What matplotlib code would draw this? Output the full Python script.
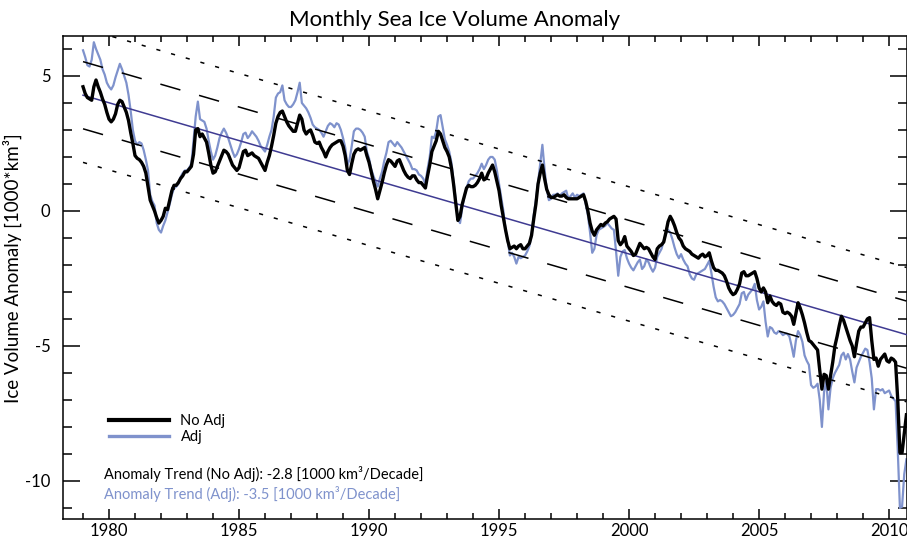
import numpy as np
import matplotlib
matplotlib.use("Agg")
import matplotlib.pyplot as plt
from matplotlib.lines import Line2D
from matplotlib.ticker import MultipleLocator

plt.rcParams['font.family'] = ['Lato', 'DejaVu Sans']
plt.rcParams['lines.scale_dashes'] = False

# Monthly anomalies [1000 km^3], January 1979 onwards
start_year = 1979
no_adj = [
    4.60, 4.35, 4.20, 4.15, 4.10, 4.60, 4.85, 4.60, 4.40, 4.15, 3.95, 3.65,        # 1979
    3.40, 3.30, 3.40, 3.60, 3.95, 4.10, 4.05, 3.85, 3.65, 3.35, 2.90, 2.50,        # 1980
    2.05, 1.95, 1.90, 1.80, 1.65, 1.40, 0.90, 0.40, 0.20, 0.00, -0.25, -0.45,      # 1981
    -0.35, -0.20, 0.10, 0.05, 0.40, 0.75, 0.95, 0.95, 1.05, 1.20, 1.30, 1.45,      # 1982
    1.45, 1.55, 1.65, 2.10, 3.00, 3.05, 2.75, 2.85, 2.70, 2.55, 2.15, 1.70,        # 1983
    1.40, 1.45, 1.65, 1.85, 2.05, 2.25, 2.20, 2.10, 1.90, 1.70, 1.60, 1.50,        # 1984
    1.60, 1.90, 2.20, 2.25, 2.05, 2.10, 2.15, 2.05, 2.00, 1.95, 1.80, 1.65,        # 1985
    1.50, 1.80, 2.05, 2.40, 2.80, 3.25, 3.50, 3.65, 3.70, 3.50, 3.30, 3.15,        # 1986
    3.05, 2.95, 2.95, 3.25, 3.55, 3.40, 3.00, 2.85, 2.95, 3.00, 2.80, 2.55,        # 1987
    2.50, 2.55, 2.35, 2.20, 2.00, 2.20, 2.35, 2.45, 2.50, 2.55, 2.60, 2.60,        # 1988
    2.40, 2.05, 1.50, 1.35, 1.75, 2.10, 2.25, 2.30, 2.25, 2.30, 2.35, 2.05,        # 1989
    1.80, 1.45, 1.10, 0.80, 0.45, 0.75, 1.05, 1.40, 1.70, 1.90, 1.85, 1.75,        # 1990
    1.65, 1.85, 1.90, 1.70, 1.50, 1.35, 1.25, 1.20, 1.30, 1.30, 1.15, 1.05,        # 1991
    1.05, 0.95, 0.85, 1.30, 1.70, 2.20, 2.40, 2.60, 2.95, 2.85, 2.60, 2.35,        # 1992
    2.20, 2.00, 1.60, 1.00, 0.30, -0.35, -0.20, 0.25, 0.55, 0.85, 0.95, 0.90,      # 1993
    0.90, 0.95, 1.05, 1.20, 1.40, 1.15, 1.20, 1.40, 1.55, 1.70, 1.45, 1.10,        # 1994
    0.75, 0.20, -0.25, -0.70, -1.10, -1.40, -1.35, -1.30, -1.40, -1.30, -1.25, -1.40,  # 1995
    -1.40, -1.30, -1.20, -0.90, -0.30, 0.25, 1.00, 1.40, 1.70, 1.20, 0.80, 0.60,   # 1996
    0.50, 0.50, 0.55, 0.60, 0.55, 0.55, 0.60, 0.50, 0.45, 0.45, 0.45, 0.45,        # 1997
    0.45, 0.50, 0.55, 0.60, 0.35, 0.00, -0.45, -0.75, -0.90, -0.70, -0.60, -0.50,  # 1998
    -0.55, -0.45, -0.40, -0.30, -0.25, -0.20, -0.30, -1.10, -1.25, -1.15, -0.95, -1.30,  # 1999
    -1.40, -1.50, -1.65, -1.60, -1.40, -1.20, -1.30, -1.40, -1.35, -1.40, -1.55, -1.70,  # 2000
    -1.80, -1.40, -1.30, -1.25, -1.15, -0.80, -0.40, -0.20, -0.35, -0.55, -0.80, -1.00,  # 2001
    -1.10, -1.30, -1.40, -1.45, -1.50, -1.60, -1.65, -1.70, -1.75, -1.65, -1.60, -1.70,  # 2002
    -1.65, -1.55, -1.85, -2.10, -2.20, -2.20, -2.25, -2.30, -2.40, -2.60, -2.85, -3.00,  # 2003
    -3.10, -3.05, -2.90, -2.70, -2.30, -2.25, -2.40, -2.40, -2.35, -2.30, -2.25, -2.50,  # 2004
    -2.85, -3.00, -2.85, -3.00, -3.40, -3.15, -3.35, -3.45, -3.50, -3.40, -3.45, -3.75,  # 2005
    -3.80, -3.75, -3.80, -3.90, -4.20, -3.80, -3.40, -3.60, -3.85, -4.15, -4.50, -4.80,  # 2006
    -4.85, -4.95, -5.05, -5.15, -5.90, -6.60, -6.05, -6.10, -6.60, -6.10, -5.60, -5.00,  # 2007
    -4.65, -4.25, -3.90, -4.05, -4.30, -4.55, -4.80, -5.00, -5.40, -4.90, -4.45, -4.30,  # 2008
    -4.30, -4.15, -4.00, -3.95, -4.80, -5.50, -5.45, -5.75, -5.50, -5.40, -5.30, -5.55,  # 2009
    -5.60, -5.45, -5.50, -5.60, -7.00, -8.95, -8.95, -8.25, -7.55,                       # 2010
]
adj = [
    5.95, 5.70, 5.40, 5.35, 5.60, 6.25, 6.00, 5.80, 5.60, 5.25, 5.05, 4.75,        # 1979
    4.60, 4.50, 4.65, 4.95, 5.20, 5.45, 5.25, 5.00, 4.75, 4.30, 3.70, 3.00,        # 1980
    2.60, 2.45, 2.55, 2.50, 2.25, 1.90, 1.50, 0.60, 0.35, 0.20, -0.45, -0.70,      # 1981
    -0.80, -0.55, -0.35, -0.05, 0.25, 0.60, 0.85, 0.90, 1.00, 1.25, 1.40, 1.50,    # 1982
    1.50, 1.60, 1.75, 2.60, 3.50, 4.05, 3.40, 3.35, 3.30, 3.05, 2.60, 2.20,        # 1983
    1.90, 2.05, 2.35, 2.70, 2.90, 3.05, 2.90, 2.70, 2.45, 2.20, 2.00, 2.10,        # 1984
    2.30, 2.55, 2.85, 2.90, 2.70, 2.80, 2.95, 2.85, 2.75, 2.60, 2.40, 2.30,        # 1985
    2.20, 2.45, 2.75, 3.00, 3.50, 4.20, 4.35, 4.40, 4.65, 4.10, 3.95, 3.85,        # 1986
    3.85, 3.95, 4.10, 4.40, 4.75, 4.00, 3.90, 3.80, 3.65, 3.45, 3.20, 3.10,        # 1987
    3.05, 3.00, 2.90, 2.75, 2.95, 3.15, 3.25, 3.20, 3.10, 3.25, 3.20, 3.00,        # 1988
    2.70, 2.35, 1.70, 1.90, 2.40, 2.95, 3.05, 3.05, 3.00, 2.90, 2.75, 2.20,        # 1989
    1.95, 1.55, 1.30, 1.10, 0.90, 1.20, 1.45, 1.85, 2.15, 2.55, 2.60, 2.50,        # 1990
    2.40, 2.55, 2.45, 2.35, 2.20, 2.05, 1.90, 1.75, 1.55, 1.55, 1.50, 1.35,        # 1991
    1.30, 1.20, 1.00, 1.55, 2.00, 2.75, 2.70, 2.95, 3.50, 3.55, 3.10, 2.65,        # 1992
    2.45, 2.20, 1.80, 1.10, 0.40, -0.30, -0.45, 0.10, 0.55, 0.85, 1.10, 1.20,      # 1993
    1.20, 1.30, 1.40, 1.55, 1.75, 1.55, 1.70, 1.90, 2.00, 2.00, 1.90, 1.50,        # 1994
    1.00, 0.50, 0.00, -0.70, -1.10, -1.65, -1.55, -1.70, -1.95, -1.70, -1.75, -1.70,  # 1995
    -1.65, -1.50, -1.30, -0.90, -0.15, 0.40, 1.05, 1.75, 2.45, 1.55, 0.80, 0.40,   # 1996
    0.45, 0.60, 0.60, 0.65, 0.55, 0.65, 0.70, 0.75, 0.45, 0.55, 0.65, 0.50,        # 1997
    0.60, 0.55, 0.60, 0.65, 0.25, -0.15, -0.80, -1.55, -1.40, -0.90, -0.70, -0.65,  # 1998
    -0.60, -0.55, -0.45, -0.55, -0.65, -0.70, -1.50, -2.40, -1.70, -1.50, -1.45, -1.75,  # 1999
    -1.95, -2.10, -2.20, -2.05, -1.90, -1.80, -2.15, -2.05, -1.80, -1.90, -2.10, -2.25,  # 2000
    -2.10, -1.70, -1.55, -1.40, -1.10, -0.85, -0.70, -0.80, -1.05, -1.35, -1.60, -1.75,  # 2001
    -1.60, -1.80, -1.95, -2.05, -2.35, -2.50, -2.55, -2.35, -2.30, -2.25, -2.20, -2.15,  # 2002
    -2.00, -1.85, -2.30, -2.80, -3.20, -3.35, -3.30, -3.35, -3.45, -3.60, -3.75, -3.90,  # 2003
    -3.85, -3.75, -3.60, -3.45, -3.05, -3.00, -3.30, -3.10, -3.00, -2.90, -2.70, -3.30,  # 2004
    -3.65, -3.55, -3.35, -4.10, -4.65, -4.30, -4.35, -4.50, -4.55, -4.45, -4.50, -4.60,  # 2005
    -4.55, -4.55, -4.65, -5.00, -5.40, -4.80, -4.45, -4.60, -4.85, -5.35, -5.55, -5.70,  # 2006
    -6.45, -6.55, -6.50, -6.40, -7.00, -8.00, -6.70, -6.30, -7.35, -6.55, -6.20, -6.00,  # 2007
    -5.85, -5.70, -5.35, -5.25, -5.50, -5.30, -5.50, -5.95, -6.35, -5.80, -5.60, -5.40,  # 2008
    -5.25, -5.10, -5.15, -5.60, -6.20, -7.35, -6.60, -6.60, -6.65, -6.60, -6.75, -6.70,  # 2009
    -6.65, -6.85, -6.95, -7.05, -8.85, -11.00, -10.95, -9.75, -9.20,                     # 2010
]

# Linear trends, 1000 km^3 per decade
trend_no_adj = -2.8
trend_adj = -3.5

x_major = [1980, 1985, 1990, 1995, 2000, 2005, 2010]
y_major = [5, 0, -5, -10]

col_no_adj = "black"
col_adj = "#7f92cc"
col_trend = "#3f3b92"

t = start_year + np.arange(len(no_adj)) / 12.0
y_no = np.array(no_adj)
y_ad = np.array(adj)

# trend line through the series mean, with 1- and 2-sigma envelopes of the residuals
slope = trend_no_adj / 10.0
intercept = y_no.mean() - slope * t.mean()
fit = intercept + slope * t
sigma = np.std(y_no - fit)

W, H = 907, 541
fig = plt.figure(figsize=(W / 100, H / 100), dpi=100)
ax = fig.add_axes([63 / W, 1 - 519 / H, (906.5 - 63) / W, (519 - 36) / H])

ax.plot(t, y_ad, color=col_adj, lw=1.6, zorder=2)
for k, ls in [(1, (0, (15, 14))), (-1, (0, (15, 14))), (2, (0, (3, 8))), (-2, (0, (3, 8)))]:
    ax.plot(t, fit + k * sigma, color="black", lw=1.1, linestyle=ls, zorder=3)
ax.plot(t, fit, color=col_trend, lw=1.1, zorder=3)
ax.plot(t, y_no, color=col_no_adj, lw=2.4, zorder=4)

ax.set_xlim(1978.23, 2010.67)
ax.set_ylim(-11.41, 6.48)

ax.set_xticks(x_major)
ax.set_xticklabels([str(v) for v in x_major])
ax.set_yticks(y_major)
ax.set_yticklabels([str(v) for v in y_major])
ax.xaxis.set_minor_locator(MultipleLocator(1))
ax.yaxis.set_minor_locator(MultipleLocator(1))
ax.tick_params(axis="x", which="major", direction="in", length=7, width=1.1,
               top=True, bottom=True, labelsize=12, pad=3)
ax.tick_params(axis="x", which="minor", direction="in", length=4, width=1.1,
               top=True, bottom=True)
ax.tick_params(axis="y", which="major", direction="in", length=12, width=1.1,
               left=True, right=True, labelsize=12, pad=9)
ax.tick_params(axis="y", which="minor", direction="in", length=6.5, width=1.1,
               left=True, right=True)
for s in ax.spines.values():
    s.set_linewidth(1.1)

ax.set_ylabel("Ice Volume Anomaly [1000*km³]", fontsize=13.5)
ax.yaxis.set_label_coords(-0.049, 0.52)

fig.text(455 / W, 1 - 20 / H, "Monthly Sea Ice Volume Anomaly", ha="center", va="center",
         fontsize=16)

handles = [Line2D([], [], color=col_no_adj, lw=3.0), Line2D([], [], color=col_adj, lw=2.4)]
fig.legend(handles, ["No Adj", "Adj"], loc="upper left",
           bbox_to_anchor=(109 / W, 1 - 414 / H), frameon=False, fontsize=10.5,
           borderpad=0, borderaxespad=0, handlelength=4.1, handletextpad=0.8,
           labelspacing=0.15)

fig.text(104 / W, 1 - 474 / H,
         f"Anomaly Trend (No Adj): {trend_no_adj:.1f} [1000 km³/Decade]",
         ha="left", va="center", fontsize=10.5, color=col_no_adj)
fig.text(104 / W, 1 - 494 / H,
         f"Anomaly Trend (Adj): {trend_adj:.1f} [1000 km³/Decade]",
         ha="left", va="center", fontsize=10.5, color=col_adj)

fig.savefig("out.png", dpi=100)
